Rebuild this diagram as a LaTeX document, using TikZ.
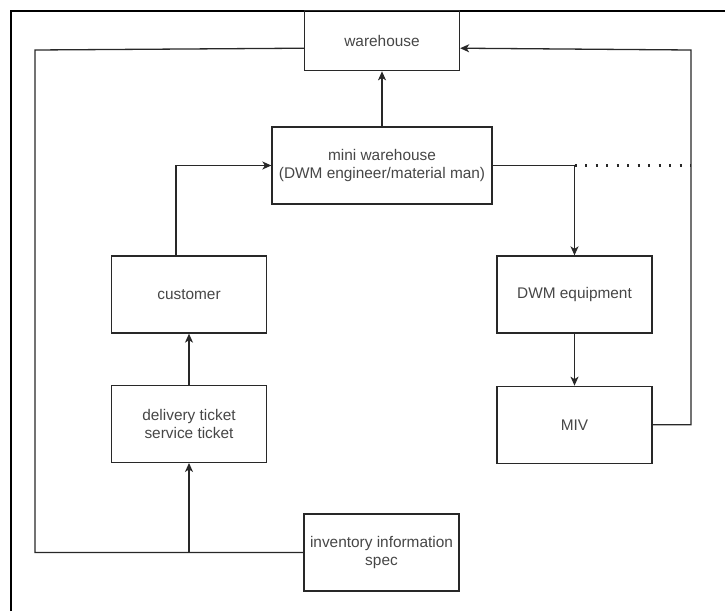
\documentclass[tikz,border=0pt]{standalone}
\usepackage{fontspec}
\setmainfont{Liberation Sans}
\usepackage{tikz}
\usetikzlibrary{arrows.meta,positioning}

\definecolor{txtgray}{RGB}{70,70,70}
\definecolor{linegray}{RGB}{40,40,40}

\tikzset{
  box/.style={draw=linegray, line width=1.3pt, minimum width=155pt, minimum height=77pt,
    inner sep=0pt, align=center, text=txtgray, font=\fontsize{15.4}{18.6}\selectfont},
  link/.style={draw=linegray, line width=1.3pt},
  arr/.style={link, -{Stealth[length=9pt,width=8pt,inset=2.5pt]}},
  dots/.style={draw=linegray, line width=2.2pt, dash pattern=on 2.2pt off 8.3pt}
}

\begin{document}
\begin{tikzpicture}[x=1pt,y=-1pt]

  \useasboundingbox (0,0) rectangle (725,611);

  % frame
  \draw[line width=2pt] (11,611) -- (11,11) -- (725,11);

  % middle column
  \node[box, minimum width=220pt]                  (mini)  at (382,165.5) {mini warehouse\\(DWM engineer/material man)}; %
  \node[box, minimum height=60pt, above=55pt of mini] (wh) {warehouse}; %
  \node[box]                                       (inv)   at (381.5,552.5) {inventory information\\spec}; %

  % left column
  \node[box]                                       (cust)  at (189,294.5) {customer}; %
  \node[box, below=51pt of cust]                   (tick)  {delivery ticket\\service ticket}; %

  % right column
  \node[box]                                       (equip) at (574.5,294.5) {DWM equipment}; %
  \node[box, below=52pt of equip]                  (miv)   {MIV}; %

  % corners of the outer loops
  \coordinate (lt) at (35,50); %
  \coordinate (rt) at (691,50); %

  % Edges
  \draw[arr] (mini.north) -- (mini.north |- wh.south); %
  \draw[arr] ([xshift=-13pt]cust.north) |- (mini.west); %
  \draw[arr] (mini.east) -| (equip.north); %
  \draw[dots] (equip.north |- mini.east) -- (rt |- mini.east); %
  \draw[arr] (equip) -- (miv); %
  \draw[arr] (miv.east) -| (rt) -- ([yshift=-7.5pt]wh.east); %
  \draw[link] (inv.west) -| (lt) -- ([yshift=-7.5pt]wh.west); %
  \draw[arr] (tick.south |- inv.west) -- (tick.south); %
  \draw[arr] (tick) -- (cust); %

\end{tikzpicture}
\end{document}
